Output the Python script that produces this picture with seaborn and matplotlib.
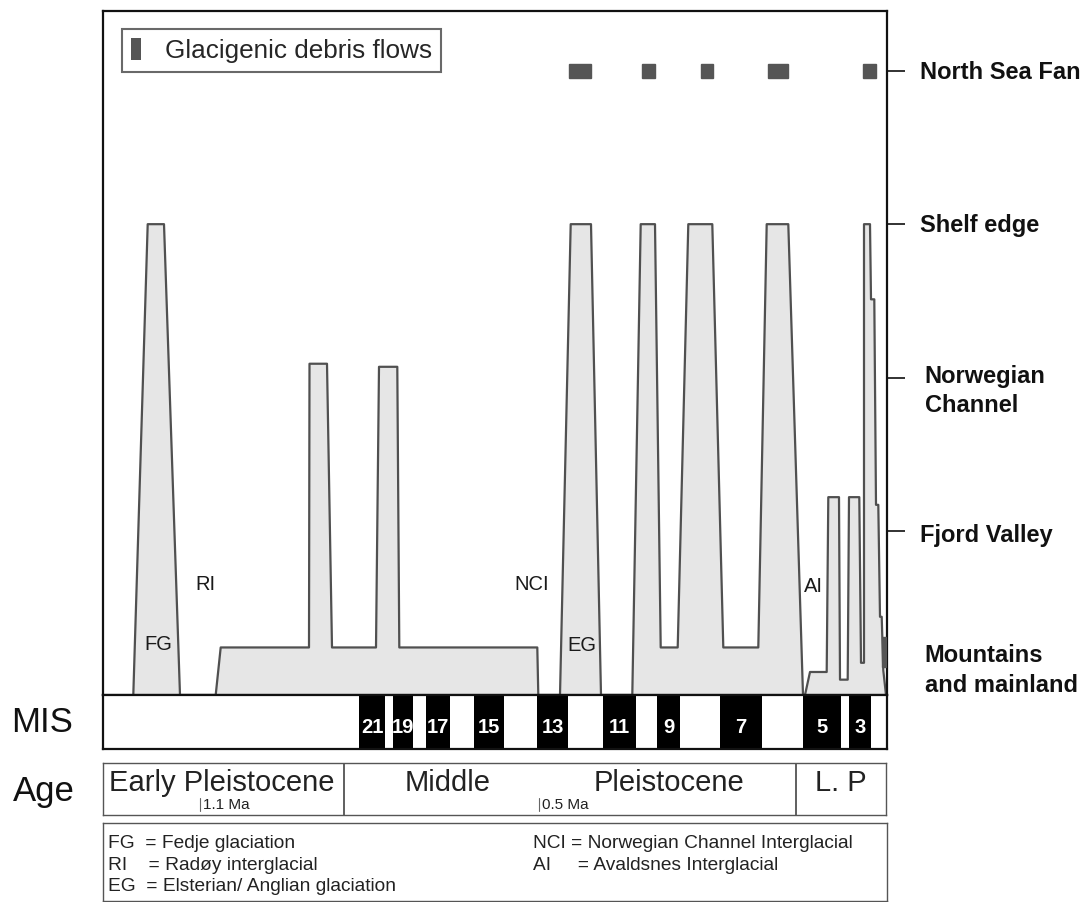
import matplotlib
matplotlib.use("Agg")
import matplotlib.pyplot as plt
import seaborn as sns
import numpy as np
import pandas as pd
from matplotlib import font_manager
from matplotlib.transforms import blended_transform_factory
from matplotlib.patches import Rectangle, Patch

# ---------------- data (x: relative time position, old -> young; y: ice-extent level) ----
curve_x = [30.3, 44.7, 61.0, 77.0,
           112.7, 117.7, 206.0, 206.5, 224.0, 229.0, 273.0, 276.0, 294.3, 296.3, 434.3, 435.3,
           457.0, 467.7, 488.0, 498.0,
           529.3, 537.7, 552.0, 557.7, 574.7, 585.3, 609.3, 620.3, 655.3, 663.7, 685.3, 700.0,
           702.0, 707.0, 723.7, 725.3, 736.0, 737.0, 744.7, 746.0, 756.3, 758.0, 761.0, 761.0,
           767.0, 768.0, 771.3, 773.0, 775.3, 777.0, 778.7, 780.3, 783.0]
curve_y = [-0.07, 3.0, 3.0, -0.07,
           -0.07, 0.24, 0.24, 2.09, 2.09, 0.24, 0.24, 2.07, 2.07, 0.24, 0.24, -0.07,
           -0.07, 3.0, 3.0, -0.07,
           -0.07, 3.0, 3.0, 0.24, 0.24, 3.0, 3.0, 0.24, 0.24, 3.0, 3.0, -0.07,
           -0.07, 0.08, 0.08, 1.22, 1.22, 0.03, 0.03, 1.22, 1.22, 0.14, 0.14, 3.0,
           3.0, 2.51, 2.51, 1.17, 1.17, 0.44, 0.44, 0.09, -0.07]

level_values = [4, 3, 2, 1, 0]
level_labels = ["North Sea Fan", "Shelf edge", "Norwegian\nChannel", "Fjord Valley",
                "Mountains\nand mainland"]

debris_start = [466, 539, 598, 665, 760]
debris_width = [22, 13, 12, 20, 13]
debris_level = 4.0

mis_labels = ["21", "19", "17", "15", "13", "11", "9", "7", "5", "3"]
mis_start = [256, 290, 323, 371, 434, 500, 554, 617, 700, 746]
mis_end = [282, 310, 347, 401, 465, 533, 577, 659, 738, 768]

age_labels = ["Early Pleistocene", "Middle", "Pleistocene", "L. P"]
age_label_x = [119, 345, 567, 739]
age_dividers = [241, 694]
ma_labels = ["1.1 Ma", "0.5 Ma"]
ma_x = [97, 437]

event_labels = ["FG", "RI", "NCI", "EG", "AI"]
event_x = [55, 102, 429, 479, 710]
event_y = [0.26, 0.65, 0.65, 0.25, 0.64]

legend_left = ["FG  = Fedje glaciation", "RI    = Radøy interglacial",
               "EG  = Elsterian/ Anglian glaciation"]
legend_right = ["NCI = Norwegian Channel Interglacial", "AI     = Avaldsnes Interglacial"]

X_MAX = 784
Y_MIN, Y_MAX = -0.07, 4.39

# ---------------- style ----------------
sns.set_theme(style="white")
names = {f.name for f in font_manager.fontManager.ttflist}
narrow = "Liberation Sans Narrow" if "Liberation Sans Narrow" in names else "Liberation Sans"
plt.rcParams["font.family"] = ["Liberation Sans", "DejaVu Sans"]

W, H = 1092, 902
fig = plt.figure(figsize=(W / 100, H / 100), dpi=100)

def pos(l, t, r, b):
    return [l / W, 1 - b / H, (r - l) / W, (b - t) / H]

ax = fig.add_axes(pos(103, 11, 887, 695))
ax_mis = fig.add_axes(pos(103, 695, 887, 749))
ax_age = fig.add_axes(pos(103, 763, 886, 815))
ax_leg = fig.add_axes(pos(103, 823, 887, 901))

# ---------------- main panel ----------------
df = pd.DataFrame({"x": curve_x, "y": curve_y, "i": range(len(curve_x))})
ax.fill_between(df["x"], df["y"], Y_MIN, color="#e6e6e6", lw=0, zorder=1)
sns.lineplot(data=df, x="x", y="y", sort=False, estimator=None, ax=ax,
             color="#505050", lw=1.6, zorder=2)

for s, w in zip(debris_start, debris_width):
    ax.add_patch(Rectangle((s, debris_level - 0.045), w, 0.09, color="#555555", zorder=3))
ax.add_patch(Rectangle((779, 0.11), 4, 0.2, color="#555555", zorder=3))

for t, xx, yy in zip(event_labels, event_x, event_y):
    ax.text(xx, yy, t, fontsize=14.5, ha="center", va="center", color="#1a1a1a")

ax.set_xlim(0, X_MAX)
ax.set_ylim(Y_MIN, Y_MAX)
ax.set_xlabel("")
ax.set_ylabel("")
ax.set_xticks([])
ax.yaxis.tick_right()
ax.set_yticks([1, 2, 3, 4])
ax.tick_params(axis="y", direction="out", length=13, width=1.3, color="#222222",
               labelright=False, right=True, left=False)
for sp in ax.spines.values():
    sp.set_linewidth(1.6)
    sp.set_color("#111111")

tr = blended_transform_factory(ax.transAxes, ax.transData)
label_y = [3.99, 2.99, 1.91, 0.97, 0.09]
label_x = [1.042, 1.042, 1.048, 1.042, 1.048]
for lab, lx, ly in zip(level_labels, label_x, label_y):
    ax.text(lx, ly, lab, transform=tr, fontsize=17, fontweight="bold", ha="left",
            va="center", linespacing=1.35, clip_on=False, color="#111111")

leg = ax.legend(handles=[Patch(facecolor="#555555", edgecolor="none")],
                labels=["Glacigenic debris flows"], loc="upper left",
                bbox_to_anchor=(0.024, 0.974), borderaxespad=0, frameon=True,
                fancybox=False, fontsize=18.8, handlelength=0.4, handleheight=0.9,
                handletextpad=0.9, borderpad=0.35)
leg.get_frame().set_edgecolor("#444444")
leg.get_frame().set_linewidth(1.5)

# ---------------- MIS strip ----------------
ax_mis.bar(mis_start, 1, width=np.array(mis_end) - np.array(mis_start), align="edge",
           color="black", edgecolor="none")
for lab, s, e in zip(mis_labels, mis_start, mis_end):
    ax_mis.text((s + e) / 2, 0.4, lab, color="white", fontsize=14.5, fontweight="bold",
                ha="center", va="center", family=[narrow, "DejaVu Sans"])
ax_mis.set_xlim(0, X_MAX)
ax_mis.set_ylim(0, 1)
ax_mis.set_xticks([])
ax_mis.set_yticks([])
for sp in ax_mis.spines.values():
    sp.set_linewidth(1.6)
    sp.set_color("#111111")
fig.text(42 / W, 1 - 722 / H, "MIS", fontsize=25, ha="center", va="center", color="#111111")
fig.text(44 / W, 1 - 792 / H, "Age", fontsize=25, ha="center", va="center", color="#111111")

# ---------------- Age strip ----------------
ax_age.set_xlim(0, X_MAX)
ax_age.set_ylim(0, 1)
ax_age.set_xticks([])
ax_age.set_yticks([])
for d in age_dividers:
    ax_age.axvline(d, color="#444444", lw=1.2)
for lab, xx in zip(age_labels, age_label_x):
    ax_age.text(xx, 0.62, lab, fontsize=21, ha="center", va="center", color="#222222",
                family=[narrow, "DejaVu Sans"])
for lab, xx in zip(ma_labels, ma_x):
    ax_age.plot([xx, xx], [0.08, 0.33], color="#666666", lw=0.8)
    ax_age.text(xx + 3, 0.2, lab, fontsize=11, ha="left", va="center", color="#222222",
                family=[narrow, "DejaVu Sans"])
for sp in ax_age.spines.values():
    sp.set_linewidth(1.0)
    sp.set_color("#555555")

# ---------------- definitions box ----------------
ax_leg.set_xlim(0, X_MAX)
ax_leg.set_ylim(0, 1)
ax_leg.set_xticks([])
ax_leg.set_yticks([])
for i, t in enumerate(legend_left):
    ax_leg.text(5, 0.74 - i * 0.28, t, fontsize=13.8, ha="left", va="center",
                color="#222222", family=[narrow, "DejaVu Sans"])
for i, t in enumerate(legend_right):
    ax_leg.text(430, 0.74 - i * 0.28, t, fontsize=13.8, ha="left", va="center",
                color="#222222", family=[narrow, "DejaVu Sans"])
for sp in ax_leg.spines.values():
    sp.set_linewidth(1.0)
    sp.set_color("#555555")

fig.savefig("out.png", dpi=100)
